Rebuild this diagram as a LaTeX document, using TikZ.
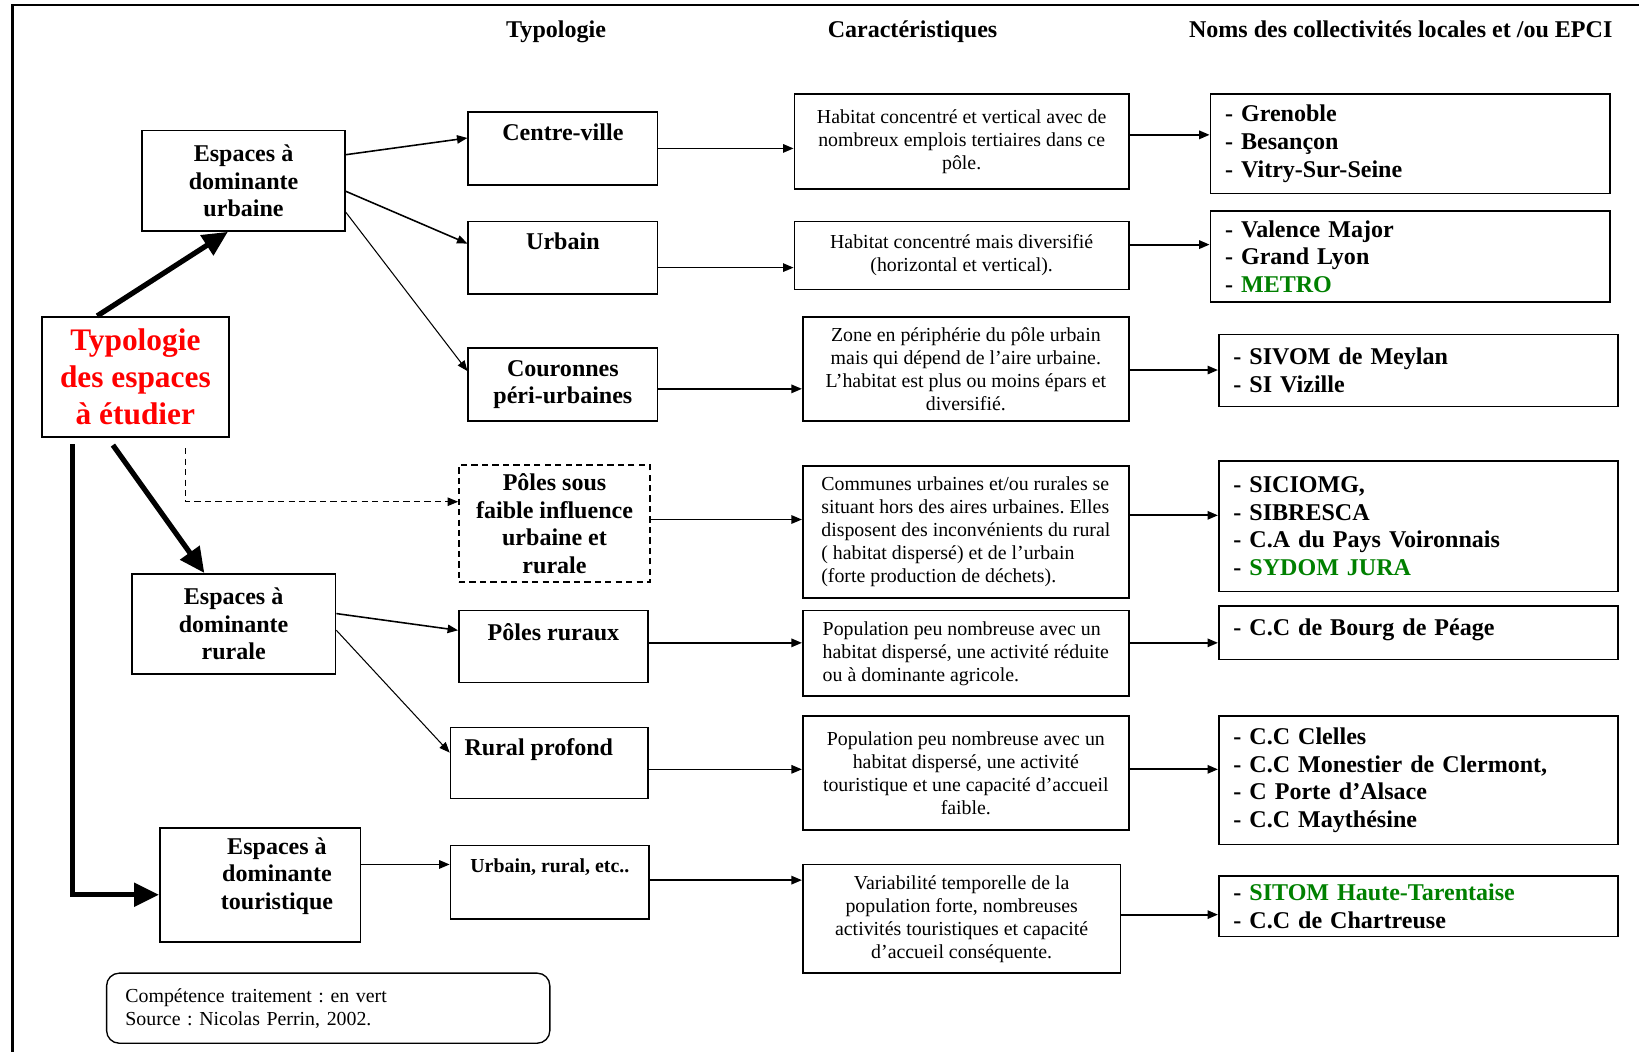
\documentclass[tikz,border=0pt]{standalone}
\usepackage{fontspec}
\setmainfont{Liberation Serif}
\frenchspacing
\usetikzlibrary{arrows.meta, positioning, calc}
\definecolor{typored}{rgb}{1, 0, 0}
\definecolor{vertcomp}{rgb}{0, 0.5, 0}

\begin{document}
\begin{tikzpicture}[x=1pt, y=-1pt,
    box/.style={draw, line width=1.6pt, inner sep=0pt},
    head/.style={font=\bfseries\fontsize{23}{26.5}\selectfont, anchor=base, inner sep=0pt},
    lbl/.style={font=\bfseries\fontsize{23}{26.5}\selectfont, align=center},
    toplbl/.style={lbl, inner sep=0pt},
    desc/.style={box, font=\fontsize{19}{22}\selectfont, align=center},
    descl/.style={desc, align=left, minimum width=312pt},
    noms/.style={box, font=\bfseries\fontsize{23}{26.5}\selectfont, align=left, text width=354pt, inner xsep=14pt},
    arr/.style={-{Triangle[length=10pt, width=8pt]}, line width=1.5pt},
    thinarr/.style={arr, line width=1pt},
    bigarr/.style={-{Triangle[length=24pt, width=22pt]}, line width=5pt}]
    \useasboundingbox (0,0) rectangle (1568,1006.4);
    \draw[line width=2pt] (12,1006.4) -- (12,5) -- (1568,5);

    \node[head] (hTypo) at (532,36) {Typologie};
    \node[head] (hCarac) at (873,36) {Caractéristiques};
    \node[head] (hNoms) at (1340,36) {Noms des collectivités locales et /ou EPCI};

    \node[box, align=center, text=typored, font=\bfseries\fontsize{30}{35}\selectfont, minimum width=179pt, minimum height=115pt] (typo) at (129.5,360.5) {Typologie\\des espaces\\à étudier};
    \node[box, lbl, minimum width=194pt, minimum height=96pt] (eUrb) at (233,173) {Espaces à\\dominante\\urbaine};
    \node[box, lbl, minimum width=195pt, minimum height=96pt] (eRur) at (223.5,597) {Espaces à\\dominante\\rurale};
    \node[box, minimum width=192pt, minimum height=109pt] (eTour) at (249,846.5) {};
    \node[lbl] (eTourT) at (265,838) {Espaces à\\dominante\\touristique};

    \node[box, minimum width=181pt, minimum height=70pt] (cVille) at (538.5,142) {};
    \node[toplbl, below=12pt of cVille.north] (cVilleT) {Centre-ville};
    \node[box, minimum width=181pt, minimum height=69pt] (urb) at (538.5,246.5) {};
    \node[toplbl, below=11pt of urb.north] (urbT) {Urbain};
    \node[box, lbl, minimum width=181pt, minimum height=70pt] (cour) at (538.5,368) {Couronnes\\péri-urbaines};
    \node[box, lbl, dash pattern=on 6pt off 4pt, line width=1.4pt, minimum width=183pt, minimum height=112pt] (pSous) at (530.5,501) {Pôles sous\\faible influence\\urbaine et\\rurale};
    \node[box, minimum width=181pt, minimum height=69pt] (pRur) at (529.5,618.5) {};
    \node[toplbl, below=13pt of pRur.north] (pRurT) {Pôles ruraux};
    \node[box, minimum width=189pt, minimum height=68pt] (rProf) at (525.5,730) {};
    \node[toplbl, below=11pt of rProf.north, xshift=-10pt] (rProfT) {Rural profond};
    \node[box, minimum width=190pt, minimum height=70pt] (uEtc) at (526,844) {};
    \node[toplbl, font=\bfseries\fontsize{19}{22}\selectfont, below=13pt of uEtc.north] (uEtcT) {Urbain, rural, etc..};

    \node[desc, minimum width=320pt, minimum height=91pt] (car1) at (920,135.5) {Habitat concentré et vertical avec de\\nombreux emplois tertiaires dans ce\\pôle.};
    \node[desc, minimum width=320pt, minimum height=65pt] (car2) at (920,244.5) {Habitat concentré mais diversifié\\(horizontal et vertical).};
    \node[desc, minimum width=312pt, minimum height=100pt] (car3) at (924,353) {Zone en périphérie du pôle urbain\\mais qui dépend de l'aire urbaine.\\L'habitat est plus ou moins épars et\\diversifié.};
    \node[descl, minimum height=126pt] (car4) at (924,509) {Communes urbaines et/ou rurales se\\situant hors des aires urbaines. Elles\\disposent des inconvénients du rural\\( habitat dispersé) et de l'urbain\\(forte production de déchets).};
    \node[descl, minimum height=82pt] (car5) at (924,625) {Population peu nombreuse avec un\\habitat dispersé, une activité réduite\\ou à dominante agricole.};
    \node[desc, minimum width=312pt, minimum height=109pt] (car6) at (924,739.5) {Population peu nombreuse avec un\\habitat dispersé, une activité\\touristique et une capacité d'accueil\\faible.};
    \node[desc, minimum width=304pt, minimum height=104pt] (car7) at (920,879) {Variabilité temporelle de la\\population forte, nombreuses\\activités touristiques et capacité\\d'accueil conséquente.};

    \node[noms, minimum height=95pt] (nom1) at (1349,137.5) {- Grenoble\\- Besançon\\- Vitry-Sur-Seine};
    \node[noms, minimum height=87pt] (nom2) at (1349,245.5) {- Valence Major\\- Grand Lyon\\- \textcolor{vertcomp}{METRO}};
    \node[noms, minimum height=69pt] (nom3) at (1357,354.5) {- SIVOM de Meylan\\- SI Vizille};
    \node[noms, minimum height=125pt] (nom4) at (1357,503.5) {- SICIOMG,\\- SIBRESCA\\- C.A du Pays Voironnais\\- \textcolor{vertcomp}{SYDOM JURA}};
    \node[noms, minimum height=51pt, text depth=12pt] (nom5) at (1357,605.5) {- C.C de Bourg de Péage};
    \node[noms, minimum height=123pt] (nom6) at (1357,746.5) {- C.C Clelles\\- C.C Monestier de Clermont,\\- C Porte d'Alsace\\- C.C Maythésine};
    \node[noms, minimum height=58pt] (nom7) at (1357,867) {- \textcolor{vertcomp}{SITOM Haute-Tarentaise}\\- C.C de Chartreuse};

    \node[draw, line width=1.3pt, rounded corners=12pt, align=left, text width=388pt, inner xsep=18pt, minimum height=67pt, font=\fontsize{19}{22}\selectfont] (legende) at (314,964.5) {Compétence traitement : en vert\\Source : Nicolas Perrin, 2002.};

    \draw[bigarr] ([xshift=-36.5pt]typo.north) -- ([xshift=-15pt]eUrb.south);
    \draw[bigarr] ([xshift=-21.5pt, yshift=-7pt]typo.south) -- ([xshift=-28pt]eRur.north);
    \draw[bigarr] ([xshift=30pt, yshift=-6pt]typo.south west) |- ([yshift=-9.5pt]eTour.west);
    \draw[arr, dash pattern=on 6pt off 4pt, line width=1.2pt] ([xshift=138pt, yshift=-10pt]typo.south west) |- ([yshift=21pt]pSous.west);

    \draw[arr] ([yshift=25pt]eUrb.east) -- ([yshift=10pt]cVille.west);
    \draw[arr] ([yshift=-10pt]eUrb.east) -- ([yshift=13.5pt]urb.west);
    \draw[thinarr] ([yshift=-30pt]eUrb.east) -- ([yshift=13pt]cour.west);
    \draw[arr] ([yshift=10pt]eRur.east) -- ([yshift=15.5pt]pRur.west);
    \draw[thinarr] ([yshift=-6pt]eRur.east) -- ([yshift=10pt]rProf.west);
    \coordinate (tourOut) at ([yshift=19.5pt]eTour.east);
    \draw[arr] (tourOut) -- (tourOut -| uEtc.west);

    \foreach \a/\b/\s in {cVille/car1/0, urb/car2/-9.5, cour/car3/-4, pSous/car4/4, pRur/car5/3.5, rProf/car6/-6, uEtc/car7/2}{
        \coordinate (p) at ([yshift=\s pt]\a.east);
        \draw[arr] (p) -- (p -| \b.west);
    }
    \foreach \a/\b/\s in {car1/nom1/6.5, car2/nom2/10.5, car3/nom3/-1, car4/nom4/16, car5/nom5/10, car6/nom6/3.5, car7/nom7/4}{
        \coordinate (p) at ([yshift=\s pt]\a.east);
        \draw[arr, line width=1.8pt] (p) -- (p -| \b.west);
    }
\end{tikzpicture}
\end{document}
